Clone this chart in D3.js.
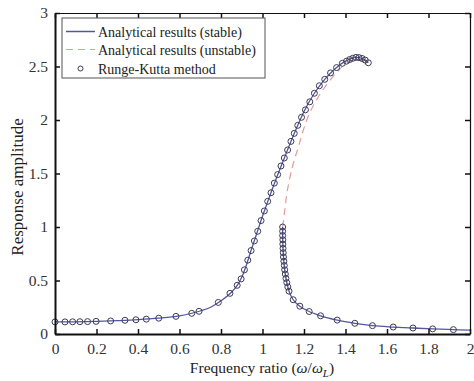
<!DOCTYPE html>
<html>
<head>
<meta charset="utf-8">
<script src="https://cdn.jsdelivr.net/npm/d3@7"></script>
<style>
  body { margin: 0; background: #fff; }
  text { font-family: "Liberation Serif", "Times New Roman", serif; }
</style>
</head>
<body>
<svg id="chart" width="474" height="381"></svg>
<script>
// analytical stable solution, resonant branch (w, A)
var stableUpW = [0, 0.1, 0.2, 0.3, 0.4, 0.5, 0.6, 0.7, 0.75, 0.8, 0.85, 0.88, 0.9, 0.95, 1.0, 1.05, 1.1, 1.15, 1.2, 1.25, 1.3, 1.35, 1.4, 1.45, 1.48, 1.51];
var stableUpA = [0.113, 0.114, 0.118, 0.125, 0.134, 0.148, 0.17, 0.215, 0.25, 0.31, 0.39, 0.46, 0.53, 0.81, 1.10, 1.37, 1.62, 1.86, 2.08, 2.25, 2.38, 2.48, 2.55, 2.585, 2.575, 2.535];

// analytical stable solution, low branch after the jump
var stableLowW = [1.097, 1.097, 1.098, 1.100, 1.103, 1.107, 1.113, 1.122, 1.128, 1.148, 1.18, 1.225, 1.28, 1.36, 1.445, 1.53, 1.63, 1.725, 1.82, 1.92, 2.0];
var stableLowA = [1.0, 0.92, 0.84, 0.76, 0.68, 0.60, 0.52, 0.44, 0.40, 0.32, 0.26, 0.21, 0.17, 0.13, 0.10, 0.078, 0.065, 0.056, 0.048, 0.041, 0.036];

// analytical unstable solution
var unstableW = [1.097, 1.105, 1.115, 1.133, 1.173, 1.213, 1.261, 1.325, 1.406, 1.455, 1.5];
var unstableA = [1.0, 1.12, 1.28, 1.47, 1.75, 2.0, 2.19, 2.37, 2.53, 2.57, 2.54];

// Runge-Kutta samples
var rkW = [0, 0.048, 0.085, 0.12, 0.157, 0.198, 0.268, 0.337, 0.39, 0.44, 0.50, 0.583, 0.659, 0.694, 0.787, 0.843, 0.878,
  0.897, 0.913, 0.929, 0.945, 0.961, 0.977, 0.993, 1.009, 1.025, 1.041, 1.057, 1.073, 1.089, 1.105, 1.121, 1.137, 1.153,
  1.17, 1.188, 1.207, 1.228, 1.25, 1.274, 1.3, 1.328, 1.357, 1.385, 1.405, 1.42, 1.435, 1.45, 1.465, 1.48, 1.495, 1.51,
  1.097, 1.097, 1.097, 1.098, 1.098, 1.099, 1.100, 1.101, 1.103, 1.105, 1.107, 1.110, 1.113, 1.117, 1.122, 1.128,
  1.148, 1.18, 1.225, 1.28, 1.36, 1.445, 1.53, 1.63, 1.725, 1.82, 1.92];
var rkA = [0.113, 0.113, 0.114, 0.115, 0.116, 0.118, 0.122, 0.128, 0.133, 0.139, 0.148, 0.165, 0.193, 0.212, 0.295, 0.38, 0.455,
  0.515, 0.60, 0.69, 0.78, 0.87, 0.96, 1.06, 1.15, 1.24, 1.32, 1.41, 1.49, 1.57, 1.645, 1.72, 1.80, 1.875,
  1.95, 2.025, 2.095, 2.17, 2.25, 2.32, 2.38, 2.44, 2.49, 2.53, 2.55, 2.565, 2.577, 2.585, 2.583, 2.575, 2.56, 2.535,
  1.0, 0.96, 0.92, 0.88, 0.84, 0.80, 0.76, 0.72, 0.68, 0.64, 0.60, 0.56, 0.52, 0.48, 0.44, 0.40,
  0.32, 0.26, 0.21, 0.17, 0.13, 0.10, 0.078, 0.065, 0.056, 0.048, 0.041];

var xTicks = [0, 0.2, 0.4, 0.6, 0.8, 1, 1.2, 1.4, 1.6, 1.8, 2];
var yTicks = [0, 0.5, 1, 1.5, 2, 2.5, 3];
var legendLabels = ["Analytical results (stable)", "Analytical results (unstable)", "Runge-Kutta method"];

var margin = {top: 13, right: 4, bottom: 47, left: 55};
var width = 474 - margin.left - margin.right;
var height = 381 - margin.top - margin.bottom;

var svg = d3.select("#chart");
var g = svg.append("g").attr("transform", "translate(" + margin.left + "," + margin.top + ")");

var x = d3.scaleLinear().domain([0, 2]).range([0, width]);
var y = d3.scaleLinear().domain([0, 3]).range([height, 0]);

const zip = (ws, as) => ws.map((w, i) => ({w: w, a: as[i]}));

var line = d3.line()
  .x(d => x(d.w))
  .y(d => y(d.a))
  .curve(d3.curveMonotoneX);

// curves
g.append("path").datum(zip(unstableW, unstableA))
  .attr("d", line).attr("fill", "none")
  .attr("stroke", "#e49a96").attr("stroke-width", 1.2)
  .attr("stroke-dasharray", "7,5");

g.append("path").datum(zip(stableUpW, stableUpA))
  .attr("d", line).attr("fill", "none")
  .attr("stroke", "#5656a0").attr("stroke-width", 1.3);

g.append("path").datum(zip(stableLowW, stableLowA))
  .attr("d", line).attr("fill", "none")
  .attr("stroke", "#5656a0").attr("stroke-width", 1.3);

g.selectAll("circle.rk")
  .data(zip(rkW, rkA))
  .enter()
  .append("circle")
  .attr("class", "rk")
  .attr("cx", d => x(d.w))
  .attr("cy", d => y(d.a))
  .attr("r", 3)
  .attr("fill", "none")
  .attr("stroke", "#3c3c55")
  .attr("stroke-width", 1);

// axes with inward ticks on all four sides
var tick = 5;
var axBottom = g.append("g").attr("transform", "translate(0," + height + ")")
  .call(d3.axisBottom(x).tickValues(xTicks).tickSizeInner(-tick).tickSizeOuter(0).tickPadding(9).tickFormat(d3.format("")));
var axLeft = g.append("g")
  .call(d3.axisLeft(y).tickValues(yTicks).tickSizeInner(-tick).tickSizeOuter(0).tickPadding(7).tickFormat(d3.format("")));
var axTop = g.append("g")
  .call(d3.axisTop(x).tickValues(xTicks).tickSizeInner(-tick).tickSizeOuter(0).tickFormat(""));
var axRight = g.append("g").attr("transform", "translate(" + width + ",0)")
  .call(d3.axisRight(y).tickValues(yTicks).tickSizeInner(-tick).tickSizeOuter(0).tickFormat(""));

[axBottom, axLeft, axTop, axRight].forEach(a => {
  a.selectAll("path.domain").attr("stroke", "#111").attr("stroke-width", 1.2);
  a.selectAll(".tick line").attr("stroke", "#111").attr("stroke-width", 1.5);
  a.selectAll("text").attr("fill", "#333").style("font-family", "'Liberation Serif', serif").style("font-size", "15.5px");
});
axBottom.select("path.domain").attr("stroke-width", 2);
axLeft.select("path.domain").attr("stroke-width", 2);

// axis titles
svg.append("text")
  .attr("x", 262).attr("y", 373)
  .attr("text-anchor", "middle").attr("fill", "#222").style("font-size", "15.5px")
  .html('Frequency ratio (<tspan font-style="italic">ω</tspan>/<tspan font-style="italic">ω</tspan><tspan font-style="italic" font-size="11px" dy="4">L</tspan><tspan dy="-4">)</tspan>');

svg.append("text")
  .attr("transform", "translate(23,187) rotate(-90)")
  .attr("text-anchor", "middle").attr("fill", "#222").style("font-size", "17px")
  .text("Response amplitude");

// legend
var legend = svg.append("g").attr("transform", "translate(62,18)");
legend.append("rect").attr("width", 203).attr("height", 60)
  .attr("fill", "#fff").attr("stroke", "#555").attr("stroke-width", 1);

var rows = [13.5, 31.5, 50.5];
legend.append("line").attr("x1", 4).attr("x2", 33).attr("y1", rows[0]).attr("y2", rows[0])
  .attr("stroke", "#5656a0").attr("stroke-width", 1.5);
legend.append("line").attr("x1", 4).attr("x2", 33).attr("y1", rows[1]).attr("y2", rows[1])
  .attr("stroke", "#e49a96").attr("stroke-width", 1.2).attr("stroke-dasharray", "7,5");
legend.append("circle").attr("cx", 18.5).attr("cy", rows[2]).attr("r", 2.5)
  .attr("fill", "none").attr("stroke", "#3c3c55").attr("stroke-width", 1);

legend.selectAll("text.lab").data(legendLabels).enter()
  .append("text").attr("class", "lab")
  .attr("x", 36).attr("y", (d, i) => rows[i] + 5)
  .attr("fill", "#222").style("font-size", "14px")
  .text(d => d);
</script>
</body>
</html>
